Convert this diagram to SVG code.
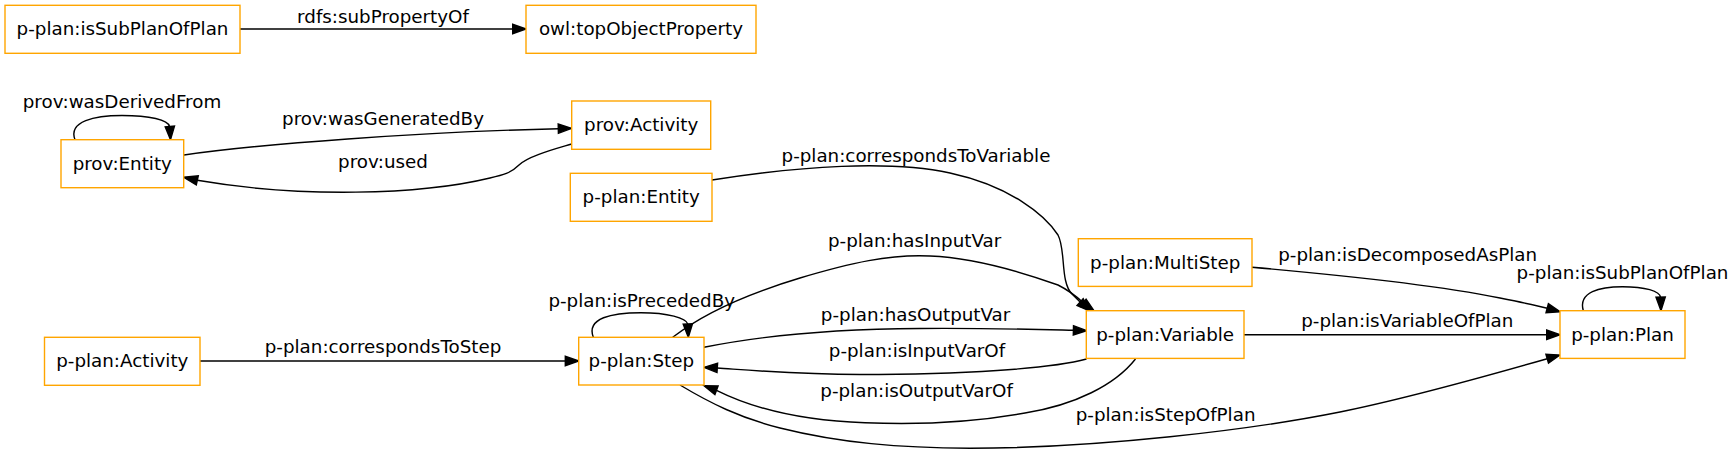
<svg xmlns="http://www.w3.org/2000/svg" width="1735" height="456" viewBox="0 0 1735 456">
<style>
.node rect{fill:#fff;stroke:#FFA500;stroke-width:1.4}
text{font-family:"DejaVu Sans",sans-serif;font-size:18.3px;fill:#000;text-anchor:middle}
.edges path{fill:none;stroke:#000;stroke-width:1.4}
.edges polygon{fill:#000;stroke:#000;stroke-width:1.4}
</style>
<rect width="1735" height="456" fill="#fff"/>
<g class="edges" id="edges">
<path d="M240,29 L512.7,29"/><polygon points="526,29 512.7,24.3 512.7,33.7"/>
<text x="383" y="23">rdfs:subPropertyOf</text>
<path d="M75,139.7 C68,121 95,115.5 122,115.5 C150,115.5 168,120 169.5,126.4"/><polygon points="170.5,139.7 165.2,126.8 174.5,126"/>
<text x="122" y="108.3">prov:wasDerivedFrom</text>
<path d="M184,155 C260,144 420,132 558.3,128.7"/><polygon points="571.7,128.3 558.2,124 558.4,133.3"/>
<text x="383" y="125">prov:wasGeneratedBy</text>
<path d="M571.7,144 C555,149 528,156 519,165 C511,173 503,175 490,178 C420,195 300,198 197.3,180.3"/><polygon points="183.7,177.3 198.3,175.7 196.3,184.9"/>
<text x="383" y="168.3">prov:used</text>
<path d="M712,180 C800,166 890,160 950,173 C1010,186 1045,215 1058,235 C1066,250 1060,282 1072,294 L1080.1,302.1"/><polygon points="1090,311 1077,305.6 1083.2,298.6"/>
<text x="916" y="161.7">p-plan:correspondsToVariable</text>
<path d="M672.7,337.3 C700,316 740,296 800,278 C850,263 890,254 930,256 C980,258 1030,275 1058,285 C1068,290 1076,296 1083.3,302.8"/><polygon points="1094,310.7 1080.5,306.6 1086.1,299.1"/>
<text x="914.6" y="246.7">p-plan:hasInputVar</text>
<path d="M593.3,337.3 C586,318 612,312.7 641,312.7 C668,312.7 686,318 687.8,324"/><polygon points="688.3,337.3 683.2,324.2 692.5,323.8"/>
<text x="641.7" y="306.7">p-plan:isPrecededBy</text>
<path d="M704,347.3 C760,336 830,329 920,328.5 C990,328 1040,329.5 1073.4,330.3"/><polygon points="1086.7,330.7 1073.5,325.7 1073.3,335"/>
<text x="915.6" y="320.7">p-plan:hasOutputVar</text>
<path d="M1086.5,359 C1050,369 960,374.5 860,374.5 C800,374.5 760,371 717.3,368"/><polygon points="704,367.3 717.6,363.3 717,372.6"/>
<text x="917" y="357.3">p-plan:isInputVarOf</text>
<path d="M1135.5,359 C1115,385 1075,405 1025,413 C970,423 920,425 865,422.7 C810,421 760,412 716.5,390.3"/><polygon points="704,385.7 718.1,385.9 714.9,394.7"/>
<text x="916.6" y="397.3">p-plan:isOutputVarOf</text>
<path d="M680,385 C710,403 740,418 780,428 C840,443 900,448 970,448.3 C1100,448 1250,430 1340,412 C1400,400 1480,378 1547.2,358.75"/><polygon points="1560,355 1548.5,363.2 1545.9,354.3"/>
<text x="1165.6" y="420.7">p-plan:isStepOfPlan</text>
<path d="M200,361 L565.3,361"/><polygon points="578.7,361 565.3,356.3 565.3,365.7"/>
<text x="383" y="353.3">p-plan:correspondsToStep</text>
<path d="M1252,267.3 C1330,274 1430,284 1500,298 C1520,302 1535,305 1547.2,308.2"/><polygon points="1560,311.7 1546,312.7 1548.4,303.7"/>
<text x="1407.7" y="261">p-plan:isDecomposedAsPlan</text>
<path d="M1244,334.7 L1546.7,334.7"/><polygon points="1560,334.7 1546.7,330 1546.7,339.4"/>
<text x="1407.3" y="326.7">p-plan:isVariableOfPlan</text>
<path d="M1583.3,310.7 C1578,292 1600,286.7 1622.5,286.7 C1645,286.7 1660,291 1660.5,297.4"/><polygon points="1661,310.7 1656,297.2 1665.3,297"/>
<text x="1622.5" y="279">p-plan:isSubPlanOfPlan</text>
</g>
<g class="node" id="n_isSubPlanOfPlan"><rect x="5" y="5.3" width="235" height="48"/><text x="122.5" y="35.3">p-plan:isSubPlanOfPlan</text></g>
<g class="node" id="n_topObjectProperty"><rect x="526" y="5.3" width="230" height="48"/><text x="641" y="35.3">owl:topObjectProperty</text></g>
<g class="node" id="n_provEntity"><rect x="61" y="139.7" width="122.7" height="48"/><text x="122.3" y="169.7">prov:Entity</text></g>
<g class="node" id="n_provActivity"><rect x="571.7" y="101" width="139" height="48.3"/><text x="641.2" y="131.2">prov:Activity</text></g>
<g class="node" id="n_pplanEntity"><rect x="570.3" y="173.3" width="141.7" height="48"/><text x="641.2" y="203.3">p-plan:Entity</text></g>
<g class="node" id="n_MultiStep"><rect x="1078.3" y="238.7" width="173.7" height="47.7"/><text x="1165.2" y="268.5">p-plan:MultiStep</text></g>
<g class="node" id="n_Variable"><rect x="1086.3" y="310.7" width="157.7" height="47.7"/><text x="1165.2" y="340.5">p-plan:Variable</text></g>
<g class="node" id="n_Plan"><rect x="1560" y="310.7" width="125" height="47.7"/><text x="1622.5" y="340.5">p-plan:Plan</text></g>
<g class="node" id="n_Step"><rect x="578.7" y="337.3" width="125.3" height="47.7"/><text x="641.3" y="367.1">p-plan:Step</text></g>
<g class="node" id="n_pplanActivity"><rect x="44.5" y="337.3" width="155.5" height="48"/><text x="122.3" y="367.2">p-plan:Activity</text></g>
</svg>
